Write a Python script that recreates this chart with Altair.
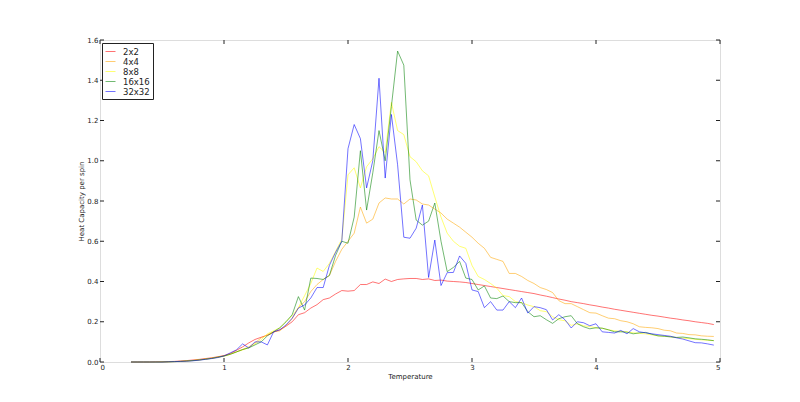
import altair as alt
import pandas as pd

temperature = [0.25, 0.30, 0.35, 0.40, 0.45, 0.50, 0.55, 0.60, 0.65, 0.70,
               0.75, 0.80, 0.85, 0.90, 0.95, 1.00, 1.05, 1.10, 1.15, 1.20,
               1.25, 1.30, 1.35, 1.40, 1.45, 1.50, 1.55, 1.60, 1.65, 1.70,
               1.75, 1.80, 1.85, 1.90, 1.95, 2.00, 2.05, 2.10, 2.15, 2.20,
               2.25, 2.30, 2.35, 2.40, 2.45, 2.50, 2.55, 2.60, 2.65, 2.70,
               2.75, 2.80, 2.85, 2.90, 2.95, 3.00, 3.05, 3.10, 3.15, 3.20,
               3.25, 3.30, 3.35, 3.40, 3.45, 3.50, 3.55, 3.60, 3.65, 3.70,
               3.75, 3.80, 3.85, 3.90, 3.95, 4.00, 4.05, 4.10, 4.15, 4.20,
               4.25, 4.30, 4.35, 4.40, 4.45, 4.50, 4.55, 4.60, 4.65, 4.70,
               4.75, 4.80, 4.85, 4.90, 4.95]

c_2x2 = [0.0, 0.0, 0.0, 0.0, 0.001, 0.001, 0.002, 0.003, 0.005, 0.007,
         0.010, 0.013, 0.017, 0.021, 0.026, 0.032, 0.042, 0.058, 0.075, 0.095,
         0.112, 0.123, 0.133, 0.148, 0.160, 0.178, 0.200, 0.235, 0.245, 0.268,
         0.285, 0.310, 0.318, 0.338, 0.355, 0.352, 0.355, 0.385, 0.385, 0.398,
         0.390, 0.412, 0.400, 0.410, 0.413, 0.415, 0.415, 0.410, 0.413, 0.405,
         0.407, 0.402, 0.400, 0.398, 0.395, 0.390, 0.385, 0.380, 0.375, 0.370,
         0.365, 0.360, 0.355, 0.350, 0.345, 0.340, 0.333, 0.327, 0.320, 0.313,
         0.307, 0.300, 0.295, 0.290, 0.284, 0.279, 0.273, 0.268, 0.262, 0.257,
         0.252, 0.247, 0.242, 0.237, 0.232, 0.228, 0.223, 0.218, 0.214, 0.209,
         0.205, 0.200, 0.196, 0.192, 0.186]

c_4x4 = [0.0, 0.0, 0.0, 0.0, 0.0, 0.001, 0.001, 0.002, 0.003, 0.005,
         0.008, 0.011, 0.015, 0.019, 0.025, 0.030, 0.040, 0.050, 0.062, 0.075,
         0.095, 0.120, 0.135, 0.150, 0.155, 0.180, 0.215, 0.270, 0.300, 0.350,
         0.385, 0.410, 0.430, 0.500, 0.560, 0.600, 0.640, 0.770, 0.690, 0.710,
         0.790, 0.815, 0.810, 0.810, 0.785, 0.810, 0.805, 0.785, 0.780, 0.760,
         0.740, 0.710, 0.690, 0.670, 0.645, 0.620, 0.590, 0.565, 0.520, 0.510,
         0.500, 0.440, 0.440, 0.425, 0.405, 0.390, 0.370, 0.360, 0.345, 0.305,
         0.290, 0.290, 0.275, 0.260, 0.245, 0.243, 0.230, 0.218, 0.215, 0.205,
         0.200, 0.190, 0.175, 0.172, 0.170, 0.166, 0.158, 0.155, 0.144, 0.142,
         0.136, 0.135, 0.130, 0.128, 0.127]

c_8x8 = [0.0, 0.0, 0.0, 0.0, 0.0, 0.001, 0.001, 0.002, 0.003, 0.005,
         0.007, 0.010, 0.014, 0.018, 0.023, 0.028, 0.038, 0.050, 0.060, 0.072,
         0.090, 0.110, 0.140, 0.155, 0.170, 0.200, 0.230, 0.270, 0.330, 0.390,
         0.467, 0.450, 0.490, 0.550, 0.610, 0.930, 0.965, 0.865, 0.970, 1.010,
         1.070, 1.040, 1.290, 1.150, 1.130, 1.020, 0.995, 0.950, 0.925, 0.820,
         0.720, 0.640, 0.600, 0.575, 0.565, 0.480, 0.425, 0.410, 0.390, 0.367,
         0.330, 0.325, 0.300, 0.295, 0.283, 0.275, 0.255, 0.250, 0.225, 0.210,
         0.205, 0.182, 0.190, 0.180, 0.176, 0.170, 0.168, 0.160, 0.155, 0.152,
         0.150, 0.145, 0.142, 0.140, 0.135, 0.130, 0.128, 0.125, 0.122, 0.118,
         0.116, 0.113, 0.110, 0.108, 0.106]

c_16x16 = [0.0, 0.0, 0.0, 0.0, 0.0, 0.0, 0.001, 0.002, 0.003, 0.005,
           0.007, 0.010, 0.014, 0.018, 0.024, 0.030, 0.038, 0.050, 0.062, 0.070,
           0.085, 0.100, 0.130, 0.150, 0.170, 0.200, 0.235, 0.325, 0.258, 0.417,
           0.415, 0.410, 0.430, 0.530, 0.600, 0.590, 0.720, 1.050, 0.755, 0.940,
           1.150, 1.000, 1.270, 1.545, 1.475, 0.905, 0.705, 0.680, 0.700, 0.790,
           0.600, 0.449, 0.470, 0.500, 0.417, 0.410, 0.358, 0.378, 0.318, 0.315,
           0.328, 0.300, 0.295, 0.295, 0.250, 0.225, 0.230, 0.210, 0.192, 0.215,
           0.225, 0.230, 0.190, 0.175, 0.165, 0.170, 0.168, 0.160, 0.150, 0.150,
           0.148, 0.140, 0.145, 0.147, 0.138, 0.130, 0.128, 0.125, 0.122, 0.124,
           0.120, 0.115, 0.113, 0.110, 0.106]

c_32x32 = [0.0, 0.0, 0.0, 0.0, 0.0, 0.0, 0.001, 0.002, 0.003, 0.004,
           0.006, 0.009, 0.013, 0.017, 0.022, 0.030, 0.045, 0.060, 0.090, 0.070,
           0.100, 0.100, 0.085, 0.150, 0.160, 0.184, 0.218, 0.268, 0.283, 0.318,
           0.370, 0.370, 0.480, 0.545, 0.600, 1.060, 1.180, 1.110, 0.865, 1.000,
           1.410, 0.914, 1.230, 0.980, 0.620, 0.615, 0.665, 0.780, 0.420, 0.606,
           0.380, 0.444, 0.445, 0.527, 0.490, 0.358, 0.350, 0.270, 0.300, 0.258,
           0.258, 0.300, 0.270, 0.318, 0.243, 0.275, 0.270, 0.260, 0.209, 0.235,
           0.210, 0.169, 0.200, 0.195, 0.180, 0.190, 0.150, 0.147, 0.144, 0.157,
           0.140, 0.166, 0.150, 0.145, 0.140, 0.136, 0.132, 0.128, 0.120, 0.114,
           0.105, 0.096, 0.095, 0.090, 0.084]

series_names = ["2x2", "4x4", "8x8", "16x16", "32x32"]
series_colors = ["#ff0000", "#ffa500", "#ffff00", "#008000", "#0000ff"]
x_ticks = [0, 1, 2, 3, 4, 5]
y_ticks = [0.0, 0.2, 0.4, 0.6, 0.8, 1.0, 1.2, 1.4, 1.6]

rows = []
for name, vals in zip(series_names, [c_2x2, c_4x4, c_8x8, c_16x16, c_32x32]):
    for t, v in zip(temperature, vals):
        rows.append({"Temperature": t, "C": v, "L": name})
df = pd.DataFrame(rows)

W, H = 620, 322
FONT = "DejaVu Sans"
xscale = alt.Scale(domain=[0, 5], nice=False, zero=False)
yscale = alt.Scale(domain=[0, 1.6], nice=False)

axis_style = dict(ticks=False, domain=False, grid=False,
                  labelFont=FONT, titleFont=FONT, labelFontSize=7, titleFontSize=7,
                  labelColor="#222222", titleColor="#222222",
                  titleFontWeight="normal")

lines = alt.Chart(df).mark_line(strokeWidth=1, opacity=0.55).encode(
    x=alt.X("Temperature:Q", scale=xscale,
            axis=alt.Axis(title="Temperature", values=x_ticks, format="d",
                          labelPadding=1, titlePadding=2, **axis_style)),
    y=alt.Y("C:Q", scale=yscale,
            axis=alt.Axis(title="Heat Capacity per spin", values=y_ticks, format=".1f",
                          labelPadding=2, titlePadding=2, **axis_style)),
    color=alt.Color("L:N", scale=alt.Scale(domain=series_names, range=series_colors),
                    legend=alt.Legend(title=None, orient="none", legendX=2, legendY=3,
                                      symbolType="stroke", symbolSize=100,
                                      symbolStrokeWidth=1, symbolOpacity=0.55,
                                      labelFontSize=8.5, labelFont=FONT,
                                      labelColor="#222222",
                                      strokeColor="#222222", fillColor="#ffffff",
                                      padding=3, rowPadding=0, labelOffset=7)),
    detail="L:N",
)

xt = pd.DataFrame({"t": x_ticks})
yt = pd.DataFrame({"v": y_ticks})
tick_color = "#222222"
bx = alt.Chart(xt).mark_rule(color=tick_color, strokeWidth=1).encode(
    x=alt.X("t:Q", scale=xscale), y=alt.value(H), y2=alt.value(H - 4))
tx = alt.Chart(xt).mark_rule(color=tick_color, strokeWidth=1).encode(
    x=alt.X("t:Q", scale=xscale), y=alt.value(0), y2=alt.value(4))
ly = alt.Chart(yt).mark_rule(color=tick_color, strokeWidth=1).encode(
    y=alt.Y("v:Q", scale=yscale), x=alt.value(0), x2=alt.value(4))
ry = alt.Chart(yt).mark_rule(color=tick_color, strokeWidth=1).encode(
    y=alt.Y("v:Q", scale=yscale), x=alt.value(W), x2=alt.value(W - 4))

chart = alt.layer(lines, bx, tx, ly, ry).properties(
    width=W, height=H,
    autosize=alt.AutoSizeParams(type="none"),
    padding={"left": 92, "top": 32, "right": 60, "bottom": 30},
).configure_view(
    stroke="#222222", strokeWidth=1
).configure(background="#ffffff")

chart.save("out.html", embed_options={"renderer": "svg", "actions": False})
